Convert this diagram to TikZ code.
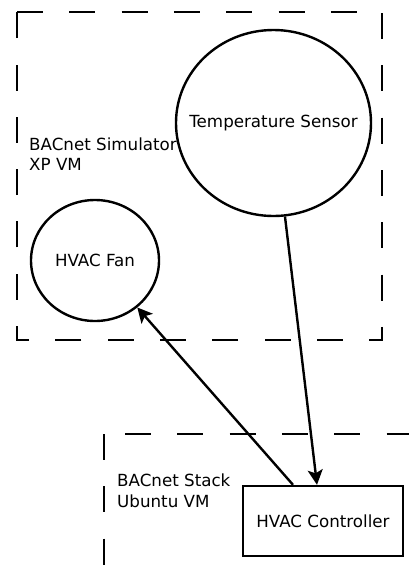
\documentclass[tikz,border=0pt]{standalone}
\usepackage{fontspec}
\setmainfont{DejaVu Sans}
\usetikzlibrary{shapes.geometric,arrows.meta}
\begin{document}
\begin{tikzpicture}[x=1pt,y=-1pt,
  every node/.style={font=\fontsize{16.7}{20}\selectfont},
  vmbox/.style={line width=2.4pt,dash pattern=on 26pt off 26.3pt},
  devcirc/.style={draw,ellipse,line width=2.4pt,inner sep=0pt},
  devbox/.style={draw,rectangle,line width=2.4pt,inner sep=0pt},
  conn/.style={line width=2.4pt,-{Stealth[length=15pt,width=15pt,inset=3.5pt]}},
  vmlabel/.style={align=left,anchor=base west,inner sep=0pt}]
\useasboundingbox (0,0) rectangle (408,587);
% VM boxes
\draw[vmbox] (17,12) -- (382,12) -- (382,340) -- (17,340) -- cycle;
\draw[vmbox] (104,434) -- (104,600);
\draw[vmbox,dash phase=31.3pt] (104,434) -- (430,434);
% labels
\node[vmlabel] (simlabel) at (29,170) {BACnet Simulator\\XP VM};
\node[vmlabel,font=\fontsize{16.7}{21}\selectfont] (stacklabel) at (117,507) {BACnet Stack\\Ubuntu VM};
% devices
\node[devcirc,minimum width=195pt,minimum height=186pt] (sensor) at (273.5,123) {\makebox[0pt]{Temperature Sensor}};
\node[devcirc,minimum width=128pt,minimum height=121pt] (fan) at (95,260.5) {\makebox[0pt]{HVAC Fan}};
\node[devbox,minimum width=160pt,minimum height=70pt] (ctrl) at (323,521) {HVAC Controller};
% connectors
\draw[conn] (sensor.-83) -- ([xshift=-6pt]ctrl.north);
\draw[conn] ([xshift=-30pt]ctrl.north) -- (fan.-48);
\end{tikzpicture}
\end{document}
